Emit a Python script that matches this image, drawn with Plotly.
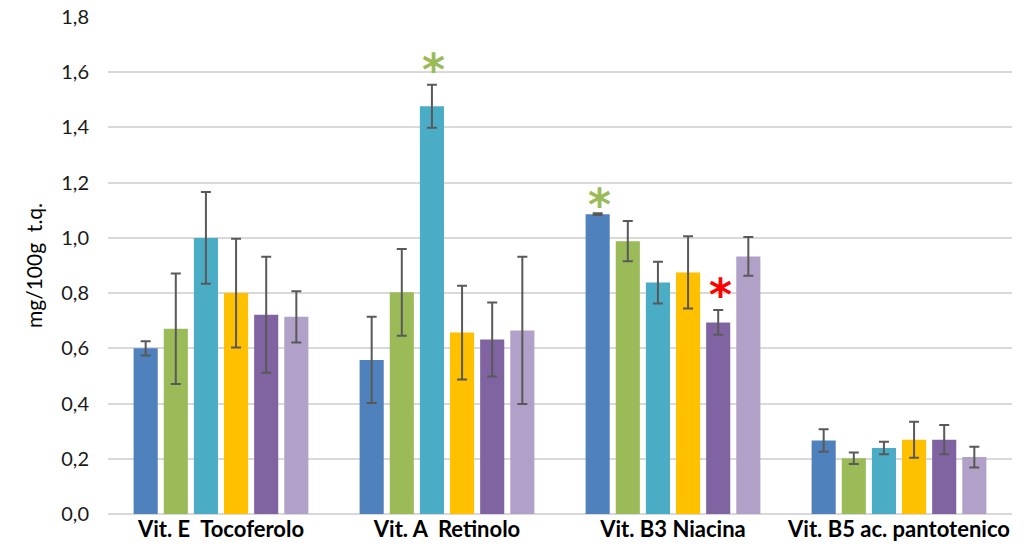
import plotly.graph_objects as go

categories = ["Vit. E\u00a0 Tocoferolo", "Vit. A\u00a0 Retinolo", "Vit. B3 Niacina", "Vit. B5 ac. pantotenico"]
series_names = ["S1", "S2", "S3", "S4", "S5", "S6"]
colors = ["#4F81BD", "#9BBB59", "#4BACC6", "#FFC000", "#8064A2", "#B1A0C7"]

values = [
    [0.60, 0.558, 1.086, 0.266],
    [0.671, 0.803, 0.988, 0.202],
    [1.00, 1.477, 0.838, 0.239],
    [0.80, 0.657, 0.875, 0.269],
    [0.722, 0.632, 0.694, 0.269],
    [0.714, 0.665, 0.933, 0.206],
]
errors = [
    [0.026, 0.156, 0.003, 0.041],
    [0.200, 0.157, 0.073, 0.021],
    [0.166, 0.078, 0.076, 0.023],
    [0.197, 0.170, 0.131, 0.065],
    [0.210, 0.134, 0.045, 0.053],
    [0.093, 0.267, 0.070, 0.038],
]

# significance marks: (category index, series index, y value, colour)
marks = [
    (1, 2, 1.643, "#9BBB59"),
    (2, 0, 1.155, "#9BBB59"),
    (2, 4, 0.829, "#FF0000"),
]

bargap = 0.2
bargroupgap = 0.2

fig = go.Figure()
for name, col, vals, errs in zip(series_names, colors, values, errors):
    fig.add_trace(go.Bar(
        name=name, x=categories, y=vals, marker=dict(color=col, line=dict(width=0)),
        error_y=dict(type="data", array=errs, visible=True, color="#595959", thickness=2, width=5),
    ))

slot = (1 - bargap) / len(series_names)
for ci, si, yv, col in marks:
    xpos = ci + (si - (len(series_names) - 1) / 2) * slot
    fig.add_annotation(x=xpos, y=yv, xref="x", yref="y", text="<b>*</b>", showarrow=False,
                       font=dict(size=44, color=col, family="DejaVu Sans"), yanchor="middle",
                       yshift=-9, xshift=2)

fig.update_layout(
    width=1031, height=557,
    margin=dict(l=108, r=19, t=17, b=43),
    paper_bgcolor="white", plot_bgcolor="white",
    barmode="group", bargap=bargap, bargroupgap=bargroupgap,
    showlegend=False,
    separators=",.",
    font=dict(family="Lato", color="#000000"),
)
fig.update_xaxes(
    tickfont=dict(size=22, color="#000000", family="Lato", weight="bold"),
    showgrid=False, showline=False, ticks="", automargin=False,
)
fig.update_yaxes(
    range=[0, 1.8], dtick=0.2, tickformat=".1f", automargin=False,
    tickfont=dict(size=20, color="#1a1a1a", family="Lato"),
    showgrid=True, gridcolor="#D9D9D9", gridwidth=1.5,
    zeroline=True, zerolinecolor="#D9D9D9", zerolinewidth=1.5,
    showline=False, ticks="", ticklabelstandoff=18,
    title=dict(text="mg/100g\u00a0 t.q.", font=dict(size=21, color="#000000", family="Lato"), standoff=12),
)

fig.write_html("out.html", config={"displayModeBar": False},
               post_script="document.body.style.margin='0';")
